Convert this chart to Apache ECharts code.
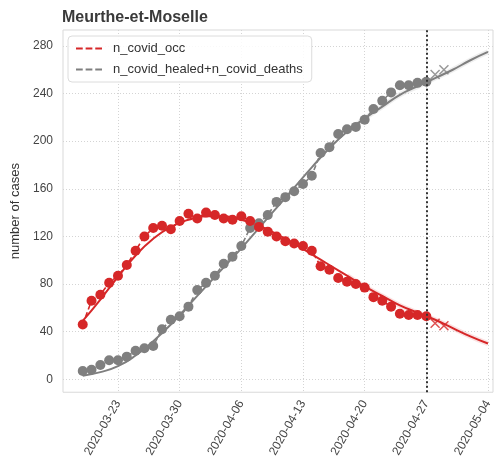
<!DOCTYPE html>
<html><head><meta charset="utf-8">
<script src="https://cdn.jsdelivr.net/npm/echarts@6/dist/echarts.min.js"></script>
<style>html,body{margin:0;padding:0;background:#fff}#c{width:496px;height:460px}</style>
</head><body><div id="c"></div>
<script>
// ---- data ----
const dates = ['2020-03-19','2020-03-20','2020-03-21','2020-03-22','2020-03-23','2020-03-24','2020-03-25','2020-03-26','2020-03-27','2020-03-28','2020-03-29','2020-03-30','2020-03-31',
'2020-04-01','2020-04-02','2020-04-03','2020-04-04','2020-04-05','2020-04-06','2020-04-07','2020-04-08','2020-04-09','2020-04-10','2020-04-11','2020-04-12','2020-04-13','2020-04-14','2020-04-15','2020-04-16','2020-04-17','2020-04-18','2020-04-19','2020-04-20','2020-04-21','2020-04-22','2020-04-23','2020-04-24','2020-04-25','2020-04-26','2020-04-27'];
const occ = [46,66,71,81,87,96,108,120,127,129,126,133,139,135,140,138,135,134,137,133,128,124,120,116,114,112,108,95,92,85,82,80,77,69,66,61,55,54,54,53];
const healedDeaths = [7,8,12,16,16,19,24,26,28,42,50,53,61,75,81,87,97,103,112,127,131,138,149,153,158,164,171,190,195,206,210,212,218,227,234,241,247,247,249,250];
const forecastDates = ['2020-04-28','2020-04-29'];
const occForecast = [47,45];
const healedForecast = [256,260];
const fitDates = ['2020-03-19','2020-03-21','2020-03-23','2020-03-25','2020-03-27','2020-03-29','2020-03-31','2020-04-02','2020-04-04','2020-04-06','2020-04-08','2020-04-10','2020-04-12','2020-04-14','2020-04-16','2020-04-18','2020-04-20','2020-04-22','2020-04-24','2020-04-26','2020-04-28','2020-04-30','2020-05-02','2020-05-04'];
const occFit = [49,67,86,104,118,128,134,137,137,134,129,122,114,105,96,87,78,70,62,56,50,43,36,30];
const healedFit = [3,6,11,20,32,46,62,78,94,110,127,144,161,178,194,208,219,229,239,246,253,260,268,275];
const xTickLabels = ['2020-03-23','2020-03-30','2020-04-06','2020-04-13','2020-04-20','2020-04-27','2020-05-04'];
const yTicks = [0,40,80,120,160,200,240,280];
const cutoffDate = '2020-04-27';

// ---- helpers ----
const DAY = 86400000;
const ref = Date.parse(xTickLabels[0] + 'T00:00:00Z');
const d = s => (Date.parse(s + 'T00:00:00Z') - ref) / DAY;
const pairs = (xs, ys) => xs.map((x, i) => [d(x), ys[i]]);
const xTickVals = xTickLabels.map(d);

const RED = '#d62728', GRAY = '#7f7f7f';
const FONT = 'Liberation Sans, Arial, sans-serif';
const dashIcon = 'path://M0,0h7v2h-7z M10,0h7v2h-7z M20,0h7v2h-7z';
const xIcon = 'path://M0,0L10,10M10,0L0,10';
const gridLine = {color: '#d4d4d4', type: [1, 2], width: 1};

const chart = echarts.init(document.getElementById('c'), null, {renderer: 'canvas'});
chart.setOption({
  animation: false,
  backgroundColor: '#fff',
  textStyle: {fontFamily: FONT},
  title: {text: 'Meurthe-et-Moselle', left: 62, top: 10, padding: 0,
    textStyle: {fontFamily: FONT, fontSize: 16, fontWeight: 'bold', color: '#3a3a3a'}},
  legend: {
    orient: 'vertical', left: 68, top: 36, padding: [6, 9, 6, 8], itemGap: 8,
    itemWidth: 26, itemHeight: 2,
    borderColor: '#dcdcdc', borderWidth: 1, borderRadius: 4, backgroundColor: 'rgba(255,255,255,0.85)',
    textStyle: {fontFamily: FONT, fontSize: 13, color: '#333', padding: [0, 0, 0, 6]},
    data: [
      {name: 'n_covid_occ', icon: dashIcon, itemStyle: {color: RED}},
      {name: 'n_covid_healed+n_covid_deaths', icon: dashIcon, itemStyle: {color: GRAY}}
    ]
  },
  grid: {left: 63, right: 3, top: 30, bottom: 67, show: true, borderColor: '#d9d9d9', borderWidth: 1, backgroundColor: '#fff'},
  xAxis: {
    type: 'value', min: -6.24, max: 42.57,
    axisLine: {show: false},
    axisTick: {show: false, customValues: xTickVals},
    splitLine: {show: true, lineStyle: gridLine},
    axisLabel: {
      rotate: 60, fontSize: 12, color: '#444', fontFamily: FONT, margin: 9,
      customValues: xTickVals,
      formatter: v => xTickLabels[xTickVals.indexOf(Math.round(v))] || ''
    }
  },
  yAxis: {
    type: 'value', min: -10.9, max: 293.4,
    name: 'number of cases', nameLocation: 'middle', nameGap: 32, nameRotate: 90,
    nameTextStyle: {fontFamily: FONT, fontSize: 13, color: '#333'},
    axisLine: {show: false},
    axisTick: {show: false, customValues: yTicks},
    splitLine: {show: true, lineStyle: gridLine},
    axisLabel: {
      fontSize: 12, color: '#444', fontFamily: FONT, margin: 10,
      customValues: yTicks,
      formatter: v => String(Math.round(v))
    }
  },
  series: [
    {type: 'line', silent: true, data: pairs(fitDates, healedFit).slice(15), smooth: true, showSymbol: false,
      lineStyle: {color: GRAY, width: 5, opacity: 0.13}, z: 1},
    {type: 'line', silent: true, data: pairs(fitDates, occFit).slice(15), smooth: true, showSymbol: false,
      lineStyle: {color: RED, width: 5, opacity: 0.13}, z: 1},
    {type: 'line', silent: true, data: pairs(fitDates, healedFit), smooth: true, showSymbol: false,
      lineStyle: {color: GRAY, width: 2}, z: 2},
    {type: 'line', silent: true, data: pairs(fitDates, occFit), smooth: true, showSymbol: false,
      lineStyle: {color: RED, width: 2}, z: 2},
    {name: 'n_covid_healed+n_covid_deaths', type: 'line', data: pairs(dates, healedDeaths),
      symbol: 'circle', symbolSize: 10, itemStyle: {color: GRAY},
      lineStyle: {color: GRAY, width: 1.6, type: [5, 3]}, z: 3,
      markLine: {silent: true, symbol: 'none', label: {show: false},
        lineStyle: {color: '#333', width: 2, type: [2, 2.5]},
        data: [{xAxis: d(cutoffDate)}]}},
    {name: 'n_covid_occ', type: 'line', data: pairs(dates, occ),
      symbol: 'circle', symbolSize: 10, itemStyle: {color: RED},
      lineStyle: {color: RED, width: 1.6, type: [5, 3]}, z: 3},
    {type: 'scatter', data: pairs(forecastDates, healedForecast), symbol: xIcon, symbolSize: 9,
      itemStyle: {color: 'rgba(0,0,0,0)', borderColor: GRAY, borderWidth: 1.5}, z: 4},
    {type: 'scatter', data: pairs(forecastDates, occForecast), symbol: xIcon, symbolSize: 9,
      itemStyle: {color: 'rgba(0,0,0,0)', borderColor: RED, borderWidth: 1.5}, z: 4}
  ]
});
</script></body></html>
